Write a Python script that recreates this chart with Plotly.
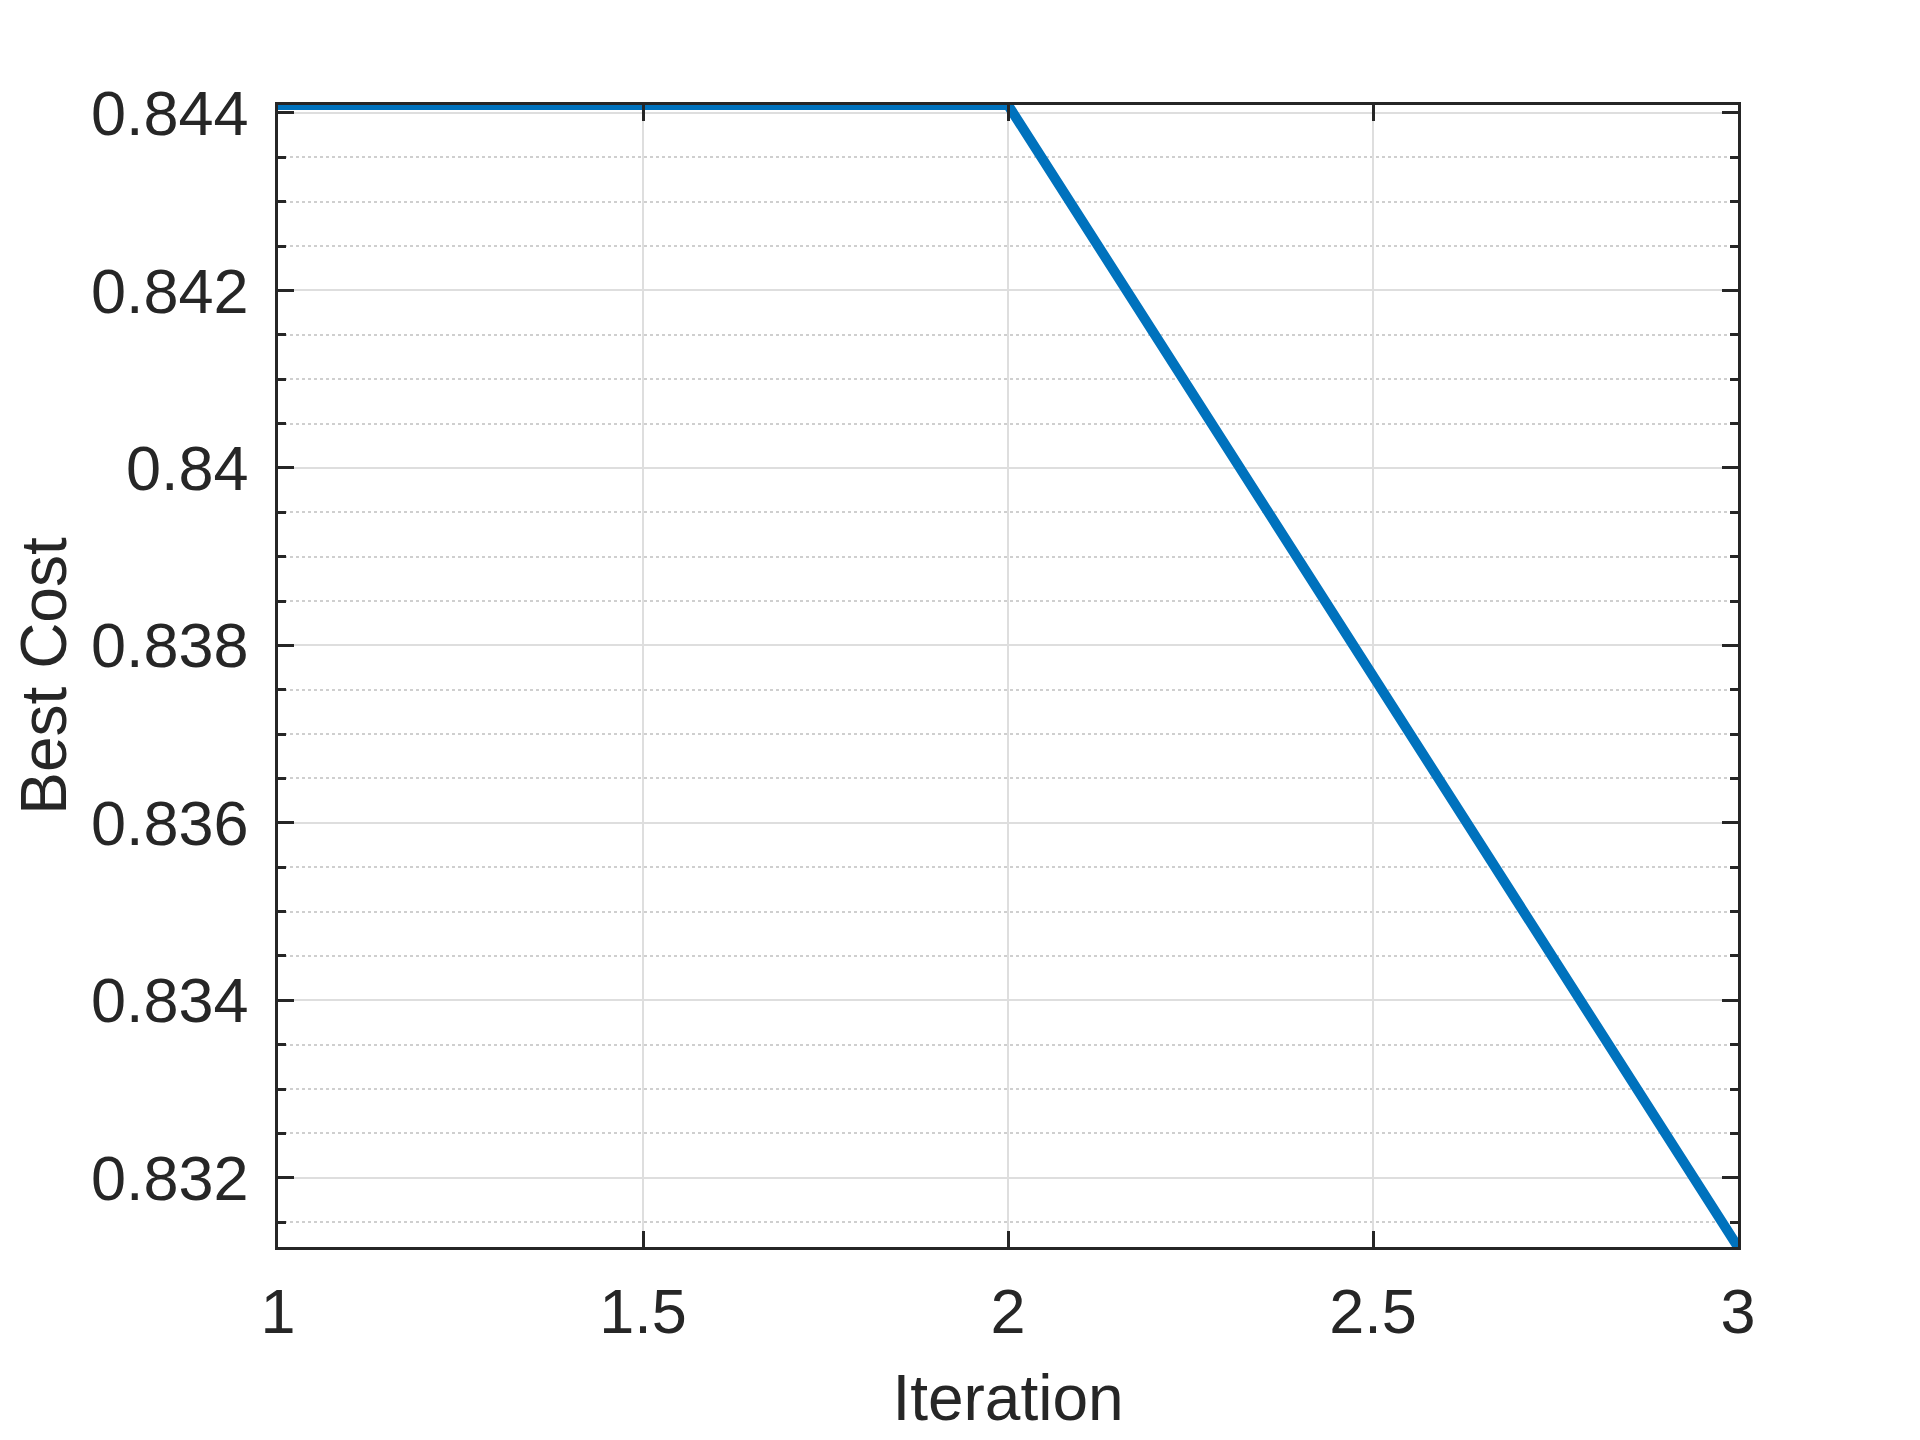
import plotly.graph_objects as go

iterations = [1, 2, 3]
best_cost = [0.84409, 0.84409, 0.83122]
x_ticks = [1, 1.5, 2, 2.5, 3]
y_ticks = [0.832, 0.834, 0.836, 0.838, 0.840, 0.842, 0.844]
y_tick_labels = ["0.832", "0.834", "0.836", "0.838", "0.84", "0.842", "0.844"]

fig = go.Figure()
fig.add_trace(go.Scatter(
    x=iterations, y=best_cost, mode="lines",
    line=dict(color="#0072BD", width=10),
    showlegend=False, cliponaxis=False,
))

font_family = "Liberation Sans, Arial, sans-serif"
axis_common = dict(
    showline=True, linecolor="#262626", linewidth=2.5, mirror="ticks",
    ticks="inside", ticklen=16, tickwidth=2.5, tickcolor="#262626",
    showgrid=True, gridcolor="#dedede", gridwidth=2,
    zeroline=False,
    tickfont=dict(family=font_family, size=63, color="#262626"),
)

fig.update_xaxes(
    **axis_common,
    range=[1, 3], tickvals=x_ticks, ticktext=[str(v) for v in x_ticks],
    ticklabelstandoff=8,
    title=dict(text="Iteration", font=dict(family=font_family, size=64, color="#262626"), standoff=30),
)
fig.update_yaxes(
    **axis_common,
    range=[min(best_cost), max(best_cost)], tickvals=y_ticks, ticktext=y_tick_labels,
    ticklabelstandoff=14,
    minor=dict(dtick=0.0005, ticks="inside", ticklen=8, tickwidth=2.5, tickcolor="#262626",
               showgrid=True, gridcolor="#cfcfcf", griddash="dot", gridwidth=2),
    title=dict(text="Best Cost", font=dict(family=font_family, size=64, color="#262626"), standoff=20),
)

fig.update_layout(
    width=1920, height=1440,
    margin=dict(l=270, r=190, t=97, b=201),
    paper_bgcolor="white", plot_bgcolor="white",
)

fig.write_html("out.html")
